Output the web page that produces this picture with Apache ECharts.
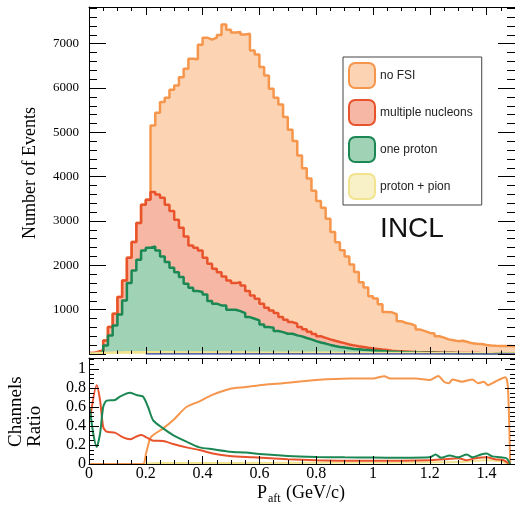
<!DOCTYPE html>
<html><head><meta charset="utf-8">
<script src="https://cdn.jsdelivr.net/npm/echarts@6/dist/echarts.min.js"></script>
<style>html,body{margin:0;padding:0;background:#fff}#c{width:515px;height:507px}</style>
</head><body><div id="c"></div>
<script>
// ---- data ----
const xMin = 0, xMax = 1.5, nBins = 90;
const noFSI = [20,50,80,307,607,909,1284,1660,2172,2524,2953,3368,3480,
  5157,5443,5683,5782,5962,6059,6246,6436,6661,6650,6977,7135,7090,7135,7194,7435,7315,7255,7262,7210,7225,6849,6759,6472,6285,5985,5782,5631,5344,5060,4803,4480,
  4190,3960,3680,3450,3300,3050,2750,2520,2340,2200,2020,1850,1620,1500,1300,1250,1120,950,940,900,740,700,680,635,550,515,475,465,400,370,330,310,290,300,270,240,232,225,205,190,185,182,180,178,175];
const multiNucleons = [20,50,80,307,607,909,1284,1660,2172,2524,2953,3368,3480,3652,3600,3526,3368,3224,3030,2849,2653,2450,2398,2337,2172,2037,1924,1847,1750,1660,1599,1622,1547,1419,1322,1247,1135,1044,983,923,832,774,720,683,607,
  560,500,450,400,365,330,300,270,245,215,195,175,158,140,125,115,100,90,75,65,60,55,50,45,42,40,38,35,33,30,28,28,25,25,22,20,20,18,18,16,15,15,14,13,12];
const oneProton = [0,10,40,194,420,645,893,1209,1599,1886,2127,2337,2398,2427,2337,2202,2073,1947,1847,1735,1586,1496,1419,1397,1344,1193,1135,1096,1096,999,999,968,923,832,796,758,668,607,593,517,494,458,458,420,397,
  360,330,290,260,235,205,180,160,145,130,115,105,95,88,80,72,65,58,53,48,44,40,37,35,32,30,28,26,24,22,21,20,19,18,17,16,15,14,13,13,12,12,11,11,10];
const protonPion = [10,20,25,30,32,35,35,38,38,40,40,40,40,40,40,38,38,38,36,36,36,35,35,35,34,34,34,33,33,33,32,32,32,31,31,31,30,30,30,30,29,29,29,28,28,
  28,27,27,27,26,26,26,25,25,25,24,24,24,23,23,23,22,22,22,21,21,21,20,20,20,19,19,19,18,18,18,17,17,17,16,16,16,15,15,15,14,14,14,13,13];
const otherChan = [null,null,null,null,null,null,null,null,null,null,null,null,0,0,0,0,0,0,0,0,0,0,0,0,0,0,0,0,0,0,0,0,0,0,0,0,0,0,0,0,0,0,0,0,0,
  0,0,0,0,0,0,0,0,0,0,0,0,0,0,0,0,0,0,0,0,0,0,0,0,0,0,0,0,0,0,0,0,0,0,0,0,0,0,0,0,0,0,0,0,0];

const ratioNoFSI = [[0,0],[0.19,0],[0.2,0.1],[0.215,0.27],[0.226,0.305],[0.261,0.375],[0.296,0.46],[0.343,0.60],[0.389,0.66],[0.436,0.73],[0.495,0.79],[0.553,0.81],[0.6,0.83],[0.682,0.85],[0.8,0.884],[0.916,0.9],[1.0,0.9],[1.04,0.925],[1.06,0.9],[1.15,0.9],[1.2,0.884],[1.23,0.926],[1.25,0.866],[1.267,0.85],[1.28,0.89],[1.313,0.866],[1.35,0.89],[1.37,0.85],[1.39,0.866],[1.405,0.83],[1.43,0.866],[1.466,0.913],[1.475,0.81],[1.483,0]];
const ratioMulti = [[0.005,0.5],[0.027,0.83],[0.039,0.67],[0.05,0.39],[0.062,0.34],[0.091,0.33],[0.12,0.28],[0.144,0.26],[0.167,0.29],[0.185,0.305],[0.202,0.28],[0.226,0.245],[0.261,0.242],[0.296,0.21],[0.343,0.175],[0.389,0.147],[0.436,0.11],[0.495,0.084],[0.577,0.07],[0.7,0.05],[0.8,0.04],[0.9,0.035],[1.0,0.035],[1.1,0.035],[1.2,0.04],[1.25,0.05],[1.3,0.06],[1.33,0.04],[1.36,0.06],[1.4,0.07],[1.43,0.05],[1.46,0.04],[1.48,0.0]];
const ratioOneP = [[0.003,0.586],[0.015,0.32],[0.027,0.18],[0.039,0.32],[0.05,0.6],[0.062,0.667],[0.091,0.674],[0.109,0.71],[0.144,0.75],[0.167,0.726],[0.19,0.71],[0.208,0.6],[0.226,0.46],[0.261,0.375],[0.296,0.305],[0.343,0.235],[0.389,0.175],[0.436,0.155],[0.495,0.13],[0.553,0.12],[0.6,0.105],[0.7,0.085],[0.8,0.075],[0.9,0.07],[1.0,0.068],[1.1,0.065],[1.2,0.07],[1.22,0.1],[1.24,0.065],[1.27,0.09],[1.3,0.07],[1.33,0.1],[1.35,0.07],[1.38,0.1],[1.4,0.11],[1.42,0.08],[1.45,0.07],[1.47,0.06],[1.483,0]];
const ratioPPi = [[0.19,0],[0.25,0.01],[0.5,0.01],[1.0,0.015],[1.3,0.02],[1.4,0.04],[1.45,0.03],[1.483,0]];

const xTicks = ['0','0.2','0.4','0.6','0.8','1','1.2','1.4'];
const yTopTicks = ['1000','2000','3000','4000','5000','6000','7000'];
const yRatioTicks = ['0','0.2','0.4','0.6','0.8','1'];
const legendNames = ['no FSI','multiple nucleons','one proton','proton + pion'];

// ---- helpers ----
const binW = (xMax - xMin) / nBins;
function hist(vals){
  const d = vals.map((v,i)=>[xMin + i*binW, v]);
  d.push([xMax, vals[vals.length-1]]);
  return d;
}
const serif = 'Liberation Serif';
const C = {
  orange:{line:'#f6964c', fill:'#fcd4b4'},
  red:{line:'#e9532c', fill:'#f6b7a5'},
  green:{line:'#1b8753', fill:'#a0d2b6'},
  yellow:{line:'#f2e38e', fill:'#f8f0c6'}
};
function fmtX(v){ const s = String(+v.toFixed(2)); return xTicks.indexOf(s)>=0 ? s : ''; }

function xAx(grid, pos, showLabel, maj, mnr){
  return {type:'value', gridIndex:grid, position:pos, min:xMin, max:xMax, interval:0.2, z:10,
    axisLine:{show:!(grid===0&&pos==='bottom'), onZero:false, lineStyle:{color:'#000', width:1}},
    axisTick:{show:true, inside:true, length:maj, lineStyle:{color:'#000'}},
    minorTick:{show:true, splitNumber:4, length:mnr, lineStyle:{color:'#000'}},
    splitLine:{show:false}, minorSplitLine:{show:false},
    axisLabel:{show:showLabel, showMaxLabel:false, margin:2, fontFamily:serif, fontSize:16, color:'#000', formatter:fmtX}};
}
function yAx(grid, pos, max, interval, split, maj, mnr, labelOpts){
  return {type:'value', gridIndex:grid, position:pos, min:0, max:max, interval:interval, z:10,
    axisLine:{show:true, onZero:false, lineStyle:{color:'#000', width:1}},
    axisTick:{show:true, inside:true, length:maj, lineStyle:{color:'#000'}},
    minorTick:{show:true, splitNumber:split, length:mnr, lineStyle:{color:'#000'}},
    splitLine:{show:false}, minorSplitLine:{show:false},
    axisLabel: labelOpts || {show:false}};
}

const histSeries = [
  {name:legendNames[0], vals:noFSI, c:C.orange},
  {name:legendNames[1], vals:multiNucleons, c:C.red},
  {name:legendNames[2], vals:oneProton, c:C.green},
  {name:legendNames[3], vals:protonPion, c:C.yellow}
].map(s=>({
  type:'line', name:s.name, xAxisIndex:0, yAxisIndex:0, step:'end', symbol:'none',
  data:hist(s.vals), lineStyle:{color:s.c.line, width:2.5}, itemStyle:{color:s.c.line},
  areaStyle:{color:s.c.fill, opacity:1}, animation:false, silent:true
}));
histSeries.push({type:'line', name:'other', xAxisIndex:0, yAxisIndex:0, step:'end', symbol:'none',
  data:hist(otherChan), lineStyle:{color:'#3343a6', width:1.5}, animation:false, silent:true});

const ratioSeries = [
  {d:ratioPPi, c:C.yellow.line},
  {d:ratioNoFSI, c:C.orange.line},
  {d:ratioMulti, c:C.red.line},
  {d:ratioOneP, c:C.green.line}
].map(s=>({type:'line', xAxisIndex:2, yAxisIndex:2, data:s.d, symbol:'none', smooth:0.25,
  lineStyle:{color:s.c, width:2}, animation:false, silent:true}));

const chart = echarts.init(document.getElementById('c'), null, {renderer:'canvas'});
chart.setOption({
  animation:false,
  backgroundColor:'#fff',
  grid:[
    {left:89, top:7, width:427, height:347},
    {left:89, top:358, width:427, height:106}
  ],
  xAxis:[
    xAx(0,'bottom',false,7,3.5),
    xAx(0,'top',false,8,4),
    xAx(1,'bottom',true,8,4),
    xAx(1,'top',false,6,3)
  ],
  yAxis:[
    yAx(0,'left',7828,1000,5,17,8,{show:true, showMinLabel:false, showMaxLabel:false, margin:10, fontFamily:serif, fontSize:13, color:'#000',
      formatter:v=>yTopTicks.indexOf(String(v))>=0?String(v):''}),
    yAx(0,'right',7828,1000,5,17,8),
    yAx(1,'left',1.116,0.2,4,10,5,{show:true, showMaxLabel:false, margin:3, fontFamily:serif, fontSize:16, color:'#000',
      formatter:v=>{const s=String(+v.toFixed(2)); return yRatioTicks.indexOf(s)>=0?s:'';}}),
    yAx(1,'right',1.116,0.2,4,10,5)
  ],
  legend:{
    left:343, top:57, orient:'vertical', itemWidth:26, itemHeight:25, itemGap:10,
    padding:[5,9,5,5], borderColor:'#444', borderWidth:1, backgroundColor:'#fff',
    textStyle:{fontFamily:'Liberation Sans', fontSize:12, color:'#222'},
    selectedMode:false,
    data:[
      {name:legendNames[0], icon:'roundRect', itemStyle:{color:C.orange.fill, borderColor:C.orange.line, borderWidth:2}},
      {name:legendNames[1], icon:'roundRect', itemStyle:{color:C.red.fill, borderColor:C.red.line, borderWidth:2}},
      {name:legendNames[2], icon:'roundRect', itemStyle:{color:C.green.fill, borderColor:C.green.line, borderWidth:2}},
      {name:legendNames[3], icon:'roundRect', itemStyle:{color:C.yellow.fill, borderColor:C.yellow.line, borderWidth:2}}
    ]
  },
  graphic:[
    {type:'text', x:412, y:229, z:20, style:{text:'INCL', fontFamily:'Liberation Sans', fontSize:28, fill:'#111', align:'center', verticalAlign:'middle', textAlign:'center', textVerticalAlign:'middle'}},
    {type:'text', x:30, y:173, rotation:Math.PI/2, style:{text:'Number of Events', fontFamily:serif, fontSize:18, fill:'#000', align:'center', verticalAlign:'middle', textAlign:'center', textVerticalAlign:'middle'}},
    {type:'text', x:16, y:447, rotation:Math.PI/2, style:{text:'Channels', fontFamily:serif, fontSize:19, fill:'#000', align:'left', verticalAlign:'middle', textAlign:'left', textVerticalAlign:'middle'}},
    {type:'text', x:35, y:447, rotation:Math.PI/2, style:{text:'Ratio', fontFamily:serif, fontSize:19, fill:'#000', align:'left', verticalAlign:'middle', textAlign:'left', textVerticalAlign:'middle'}},
    {type:'text', x:257, y:493, style:{text:'P', fontFamily:serif, fontSize:18, fill:'#000', align:'left', verticalAlign:'middle', textAlign:'left', textVerticalAlign:'middle'}},
    {type:'text', x:268, y:499, style:{text:'aft', fontFamily:serif, fontSize:12, fill:'#000', align:'left', verticalAlign:'middle', textAlign:'left', textVerticalAlign:'middle'}},
    {type:'text', x:286, y:493, style:{text:'(GeV/c)', fontFamily:serif, fontSize:18, fill:'#000', align:'left', verticalAlign:'middle', textAlign:'left', textVerticalAlign:'middle'}}
  ],
  series: histSeries.concat(ratioSeries)
});
</script></body></html>
